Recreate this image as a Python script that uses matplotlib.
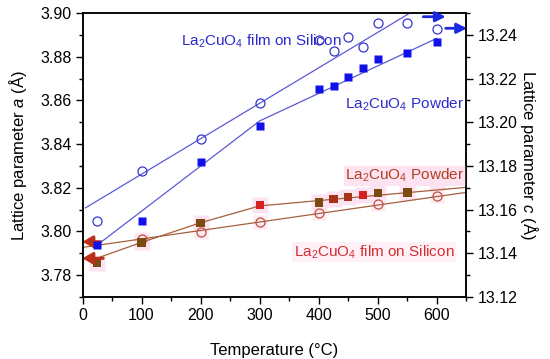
import matplotlib
matplotlib.use("Agg")
import matplotlib.pyplot as plt
from matplotlib.ticker import MultipleLocator, FormatStrFormatter

plt.rcParams['font.family'] = ['Liberation Sans', 'DejaVu Sans']
plt.rcParams['mathtext.fontset'] = 'custom'
plt.rcParams['mathtext.rm'] = 'Liberation Sans'
plt.rcParams['mathtext.it'] = 'Liberation Sans:italic'

# ---- data ----
# lattice parameter c (right axis) - blue
T_c_film = [25, 100, 200, 300, 400, 425, 450, 475, 500, 550, 600]
c_film = [13.1549, 13.1777, 13.1923, 13.2088, 13.2376, 13.2326, 13.2392, 13.2343, 13.2453, 13.2456, 13.2425]
T_c_powder = [25, 100, 200, 300, 400, 425, 450, 475, 500, 550, 600]
c_powder = [13.1438, 13.1549, 13.1819, 13.1984, 13.2151, 13.2166, 13.2207, 13.2250, 13.2291, 13.2317, 13.2369]
T_c_film_fit = [5, 650]
c_film_fit = [13.1608, 13.2655]
T_c_powder_fit = [25, 300, 600]
c_powder_fit = [13.1438, 13.2006, 13.2384]

# lattice parameter a (left axis) - red/brown
T_a_film = [100, 200, 300, 400, 500, 600]
a_film = [3.7964, 3.7999, 3.8042, 3.8083, 3.8124, 3.8164]
T_a_powder = [25, 100, 200, 300, 400, 425, 450, 475, 500, 550, 600]
a_powder = [3.7857, 3.7950, 3.8040, 3.8120, 3.8133, 3.8150, 3.8159, 3.8167, 3.8175, 3.8179, 3.8228]
T_a_film_fit = [0, 650]
a_film_fit = [3.7927, 3.8179]
T_a_powder_fit = [0, 25, 100, 200, 300, 650]
a_powder_fit = [3.7873, 3.7878, 3.7950, 3.8040, 3.8117, 3.8202]

x_ticks = [0, 100, 200, 300, 400, 500, 600]

# ---- styles ----
blue = '#1010e8'
blue_line = '#5a5ad8'
brown = '#7b4a12'
redbrown = '#a8321a'
red = '#d42020'
powder_colors = [brown, brown, brown, red, brown, redbrown, redbrown, red, brown, brown, red]
red_line = '#a5603c'
red_circle = '#c4503a'
pink = '#fde2f1'

fig = plt.figure(figsize=(5.5, 3.59), dpi=100)
ax = fig.add_axes([0.150, 0.1727, 0.698, 0.7911])
ax2 = ax.twinx()

ax.set_xlim(0, 650)
ax.set_ylim(3.77, 3.90)
ax2.set_ylim(13.12, 13.25)

# pink halos behind red markers
ax.plot(T_a_powder, a_powder, 's', ms=11, color=pink, mec='none', zorder=1)
ax.plot(T_a_film, a_film, 's', ms=10, color=pink, mec='none', zorder=1, alpha=0.7)

ax.plot(T_a_film_fit, a_film_fit, '-', color=red_line, lw=0.9, zorder=2)
ax.plot(T_a_powder_fit, a_powder_fit, '-', color=red_line, lw=0.9, zorder=2)
ax.plot(T_a_film, a_film, 'o', ms=6.5, mfc='none', mec=red_circle, mew=0.9, zorder=3)
ax.scatter(T_a_powder, a_powder, marker='s', s=36, c=powder_colors, edgecolors='none', zorder=3)

# right axis: c
ax2.plot(T_c_film_fit, c_film_fit, '-', color=blue_line, lw=0.9, zorder=2)
ax2.plot(T_c_powder_fit, c_powder_fit, '-', color=blue_line, lw=0.9, zorder=2)
ax2.plot(T_c_film, c_film, 'o', ms=6.5, mfc='none', mec='#3535d0', mew=0.9, zorder=3)
ax2.plot(T_c_powder, c_powder, 's', ms=5.7, color=blue, mec='none', zorder=3)

# arrows
arrow_red = dict(arrowstyle='-|>,head_length=0.6,head_width=0.35', color='#b8321a', lw=2.2, shrinkA=0, shrinkB=0)
ax.annotate('', xy=(0, 3.7953), xytext=(31, 3.7953), arrowprops=arrow_red, zorder=4, annotation_clip=False)
ax.annotate('', xy=(0, 3.7877), xytext=(35, 3.7877), arrowprops=arrow_red, zorder=4, annotation_clip=False)
arrow_blue = dict(arrowstyle='-|>,head_length=0.6,head_width=0.3', color='#1a2ae0', lw=2.0, shrinkA=0, shrinkB=0)
ax2.annotate('', xy=(615, 13.2483), xytext=(577, 13.2483), arrowprops=arrow_blue, zorder=4, annotation_clip=False)
ax2.annotate('', xy=(651, 13.2430), xytext=(615, 13.2430), arrowprops=arrow_blue, zorder=4, annotation_clip=False)

# texts
ax2.text(166, 13.2372, r'La$_2$CuO$_4$ film on Silicon', color='#2a2ad0', fontsize=11, ha='left', va='center', zorder=5)
ax2.text(646, 13.2080, r'La$_2$CuO$_4$ Powder', color='#2a2ad0', fontsize=11, ha='right', va='center', zorder=5)
ax.text(646, 3.8255, r'La$_2$CuO$_4$ Powder', color='#b04020', fontsize=11, ha='right', va='center', zorder=5,
        bbox=dict(boxstyle='square,pad=0.1', fc=pink, ec='none'))
ax.text(630, 3.7905, r'La$_2$CuO$_4$ film on Silicon', color='#d03030', fontsize=11, ha='right', va='center', zorder=5,
        bbox=dict(boxstyle='square,pad=0.1', fc='#fff0f8', ec='none'))

# axes styling
ax.set_xticks(x_ticks)
ax.xaxis.set_minor_locator(MultipleLocator(50))
ax.yaxis.set_major_locator(MultipleLocator(0.02))
ax.yaxis.set_minor_locator(MultipleLocator(0.01))
ax.yaxis.set_major_formatter(FormatStrFormatter('%.2f'))
ax2.yaxis.set_major_locator(MultipleLocator(0.02))
ax2.yaxis.set_minor_locator(MultipleLocator(0.01))
ax2.yaxis.set_major_formatter(FormatStrFormatter('%.2f'))

for a_ in (ax, ax2):
    for s in a_.spines.values():
        s.set_linewidth(1.1)
    a_.tick_params(which='major', direction='out', length=5, width=1.0, labelsize=11.5, pad=3)
    a_.tick_params(which='minor', direction='out', length=3, width=1.0)
ax.tick_params(top=False, which='both')
ax2.tick_params(top=False, which='both')

ax.set_xlabel('Temperature (°C)', fontsize=12, labelpad=14)
ax.set_ylabel(r'Lattice parameter $a$ (Å)', fontsize=12, labelpad=8)
ax2.set_ylabel(r'Lattice parameter $c$ (Å)', fontsize=12, rotation=270, labelpad=16)

ax.set_zorder(1)
ax.patch.set_visible(False)
ax2.set_zorder(2)

fig.savefig('out.png', dpi=100)
